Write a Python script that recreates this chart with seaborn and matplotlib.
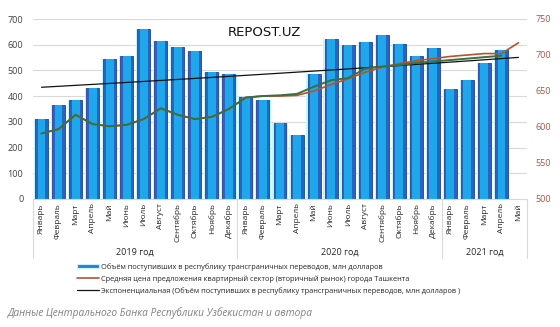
import numpy as np
import pandas as pd
import matplotlib
matplotlib.use("Agg")
import matplotlib.pyplot as plt
import matplotlib.transforms as mtransforms
from matplotlib.patches import Patch
from matplotlib.lines import Line2D
import seaborn as sns

# ---------------- data ----------------
months = ["Январь", "Февраль", "Март", "Апрель", "Май", "Июнь", "Июль",
          "Август", "Сентябрь", "Октябрь", "Ноябрь", "Декабрь"]
month_labels = months + months + months[:5]
years = ["2019 год", "2020 год", "2021 год"]
year_counts = [12, 12, 5]

# transfers, mln USD (left axis)
transfers = [313, 367, 384, 430, 543, 558, 660, 616, 592, 577, 492, 488,
             398, 385, 294, 248, 486, 623, 600, 610, 638, 603, 555, 588,
             427, 462, 527, 579, np.nan]
# average offer price, Tashkent secondary market (right axis)
price = [591, 597, 617, 604, 601, 603, 611, 626, 617, 611, 614, 625,
         641, 643, 643, 644, 650, 659, 667, 676, 683, 688, 692, 695,
         698, 700, 702, 702, 717]
# smoothed price line (right axis)
price_smooth = [591, 597, 617, 604, 601, 603, 611, 626, 617, 611, 614, 625,
                641, 643, 644, 646, 656, 665, 668, 681, 684, 686, 689, 691,
                693, 695, 697, 699, np.nan]

legend_labels = [
    "Объём поступивших в республику трансграничных переводов, млн долларов",
    "Средняя цена предложения квартирный сектор (вторичный рынок) города Ташкента",
    "Экспоненциальная (Объём поступивших в республику трансграничных переводов, млн долларов )",
]
source_text = "Данные Центрального Банка Республики Узбекистан и автора"
logo_text = "REPOST.UZ"

# ---------------- derived ----------------
idx = np.arange(len(month_labels))
df = pd.DataFrame({"idx": idx, "transfers": transfers,
                   "price": price, "smooth": price_smooth})
valid = ~np.isnan(np.array(transfers, dtype=float))
b, a = np.polyfit(idx[valid], np.log(np.array(transfers, dtype=float)[valid]), 1)
df["trend"] = np.exp(a + b * idx)

# ---------------- style ----------------
sns.set_theme(style="white")
plt.rcParams["font.family"] = ["Open Sans", "DejaVu Sans"]

W, H = 560, 327
fig = plt.figure(figsize=(W / 100, H / 100), dpi=100)
ax = fig.add_axes([33 / W, 1 - 199 / H, 494 / W, 180 / H])

order = list(range(len(month_labels)))
sns.barplot(data=df, x="idx", y="transfers", order=order, width=0.9,
            color="#bff8fb", saturation=1, errorbar=None, ax=ax, linewidth=0)
sns.barplot(data=df, x="idx", y="transfers", order=order, width=0.76,
            color="#2c63c2", saturation=1, errorbar=None, ax=ax,
            edgecolor="#22469a", linewidth=0.6)
sns.barplot(data=df, x="idx", y="transfers", order=order, width=0.46,
            color="#1fa7ec", saturation=1, errorbar=None, ax=ax, linewidth=0)

sns.lineplot(data=df, x="idx", y="trend", color="#111111", lw=0.9,
             ax=ax, legend=False)

ax.set_xlim(-0.5, len(month_labels) - 0.5)
ax.set_ylim(0, 700)
ax.set_yticks(range(0, 701, 100))
ax.yaxis.grid(True, color="#d9d9d9", lw=0.8)
ax.set_axisbelow(True)
for s in ["top", "left", "right"]:
    ax.spines[s].set_visible(False)
ax.spines["bottom"].set_color("#d9d9d9")
ax.spines["bottom"].set_linewidth(0.8)
ax.set_xticks(idx)
ax.set_xticklabels(month_labels, rotation=90, fontsize=6, color="#262626")
ax.tick_params(axis="x", length=0, pad=3)
ax.tick_params(axis="y", length=0, pad=7, labelsize=6.5, labelcolor="#404040")
ax.set_xlabel("")
ax.set_ylabel("")

ax2 = ax.twinx()
sns.lineplot(data=df, x="idx", y="price", color="#b4532c", lw=1.2,
             ax=ax2, legend=False)
sns.lineplot(data=df, x="idx", y="smooth", color="#3d6e3e", lw=1.4,
             ax=ax2, legend=False)
ax2.set_ylim(500, 750)
ax2.set_yticks(range(500, 751, 50))
for s in ["top", "left", "right", "bottom"]:
    ax2.spines[s].set_visible(False)
ax2.tick_params(axis="y", length=0, pad=6, labelsize=6.5, labelcolor="#a0584a")
ax2.set_ylabel("")
ax2.set_xlim(-0.5, len(month_labels) - 0.5)

# year grouping under the month labels
trans = mtransforms.blended_transform_factory(ax.transData, ax.transAxes)
bounds = np.concatenate([[-0.5], np.cumsum(year_counts) - 0.5])
for bx in bounds:
    ax.plot([bx, bx], [0, -0.33], transform=trans, clip_on=False,
            color="#d9d9d9", lw=0.8)
for i, yl in enumerate(years):
    cx = (bounds[i] + bounds[i + 1]) / 2
    ax.text(cx, -0.295, yl, transform=trans, ha="center", va="center",
            fontsize=6.5, color="#262626")

# logo
fig.text(228 / W, 1 - 33 / H, logo_text, fontsize=9.5, va="center",
         ha="left", color="#111111", family="DejaVu Sans")

# legend
handles = [Patch(facecolor="#3a78d0", edgecolor="#bff8fb", lw=0.8),
           Line2D([], [], color="#b4532c", lw=1.2),
           Line2D([], [], color="#111111", lw=0.9)]
fig.legend(handles, legend_labels, loc="upper left",
           bbox_to_anchor=(77 / W, 1 - 263 / H), frameon=False, fontsize=5.3,
           handlelength=3.0, handleheight=0.6, labelspacing=0.6,
           handletextpad=0.25, borderpad=0, borderaxespad=0)

fig.text(8 / W, 1 - 313 / H, source_text, fontsize=7.3, style="italic",
         color="#808080", va="center", ha="left")

fig.savefig("out.png", dpi=100)
